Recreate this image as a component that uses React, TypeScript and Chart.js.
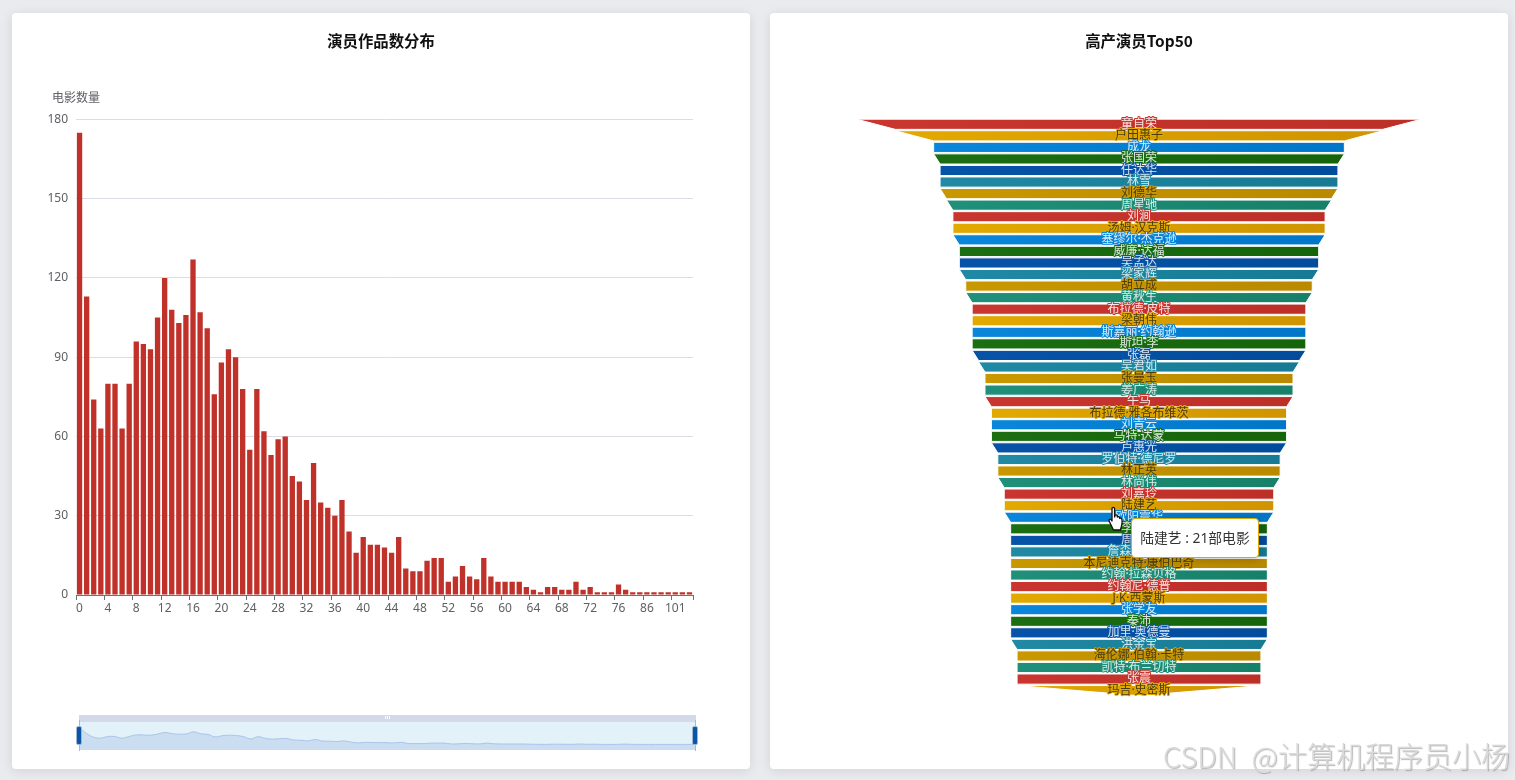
import React, { useEffect, useRef } from "react";
import { Chart, registerables, BarController } from "chart.js";

Chart.register(...registerables);

const FONT = '"Noto Sans", "Noto Sans CJK SC", sans-serif';

const barTitle = "演员作品数分布";
const funnelTitle = "高产演员Top50";
const yAxisName = "电影数量";
const yTicks = [0, 30, 60, 90, 120, 150, 180];

const workCounts = [
  "0","1","2","3","4","5","6","7","8","9","10","11","12","13","14","15","16","17","18","19",
  "20","21","22","23","24","25","26","27","28","29","30","31","32","33","34","35","36","37","38","39",
  "40","41","42","43","44","45","46","47","48","49","50","51","52","53","54","55","56","57","58","59",
  "60","61","62","63","64","65","66","67","68","69","70","71","72","73","74","75","76","78","80","83",
  "86","90","93","97","101","108","124",
];
const movieCounts = [
  175,113,74,63,80,80,63,80,96,95,93,105,120,108,103,106,127,107,101,76,
  88,93,90,78,55,78,62,53,59,60,45,43,36,50,35,33,30,36,24,16,
  22,19,19,18,16,22,10,9,9,13,14,14,5,7,11,7,6,14,7,5,
  5,5,5,3,2,1,3,3,2,2,5,2,3,1,1,1,4,2,1,1,
  1,1,1,1,1,1,1,
];

const actorNames = [
  "童自荣","户田惠子","成龙","张国荣","任达华","林雪","刘德华","周星驰","刘涧","汤姆·汉克斯",
  "塞缪尔·杰克逊","威廉·达福","吴孟达","梁家辉","胡立成","黄秋生","布拉德·皮特","梁朝伟","斯嘉丽·约翰逊","斯坦·李",
  "张磊","吴君如","张曼玉","姜广涛","午马","布拉德·雅各布维茨","刘青云","马特·达蒙","卢惠光","罗伯特·德尼罗",
  "林正英","林尚伟","刘嘉玲","陆建艺","欧阳震华","李连杰","周润发","詹森·斯坦森","本尼迪克特·康伯巴奇","约翰·拉森贝格",
  "约翰尼·德普","J·K·西蒙斯","张学友","秦沛","加里·奥德曼","洪金宝","海伦娜·伯翰·卡特","凯特·布兰切特","张震","玛吉·史密斯",
];
const actorFilms = [
  44,38,32,32,31,31,31,30,29,29,
  29,28,28,28,27,27,26,26,26,26,
  26,25,24,24,24,23,23,23,23,22,
  22,22,21,21,21,20,20,20,20,20,
  20,20,20,20,20,20,19,19,19,19,
];
const highlightedActor = 33;

const funnelFromColors = ["#c9362f","#e2a900","#0a86da","#1b6e12","#0753a8","#2089a4","#c99800","#20907a"];
const funnelToColors = ["#bc2f27","#cf9400","#0076c8","#156409","#034c9c","#167a94","#b98a00","#178068"];
const funnelTextColors = [
  "rgba(255,255,255,0.88)","#4a3a10","rgba(255,255,255,0.85)","rgba(255,255,255,0.85)",
  "rgba(255,255,255,0.85)","rgba(255,255,255,0.82)","#4a3a10","rgba(255,255,255,0.82)",
];

class FunnelController extends BarController {
  static id = "funnel";
  draw() {
    const meta = this._cachedMeta;
    const { ctx } = this.chart;
    const bars = meta.data;
    const center = meta.vScale.getPixelForValue(0);
    ctx.save();
    bars.forEach((bar: any, i: number) => {
      const next: any = bars[i + 1];
      const top = bar.y - bar.height / 2;
      const bottom = bar.y + bar.height / 2;
      const c = i % funnelFromColors.length;
      const g = ctx.createLinearGradient(bar.base, 0, bar.x, 0);
      g.addColorStop(0, funnelFromColors[c]);
      g.addColorStop(1, funnelToColors[c]);
      ctx.beginPath();
      ctx.moveTo(bar.base, top);
      ctx.lineTo(bar.x, top);
      ctx.lineTo(next ? next.x : center, bottom);
      ctx.lineTo(next ? next.base : center, bottom);
      ctx.closePath();
      ctx.fillStyle = g;
      ctx.fill();
      ctx.strokeStyle = "#fff";
      ctx.lineWidth = 1;
      ctx.stroke();
    });
    ctx.font = `12px ${FONT}`;
    ctx.textAlign = "center";
    ctx.textBaseline = "middle";
    ctx.lineJoin = "round";
    bars.forEach((bar: any, i: number) => {
      const c = i % funnelFromColors.length;
      const label = this.chart.data.labels[i] as string;
      ctx.strokeStyle = funnelFromColors[c];
      ctx.lineWidth = 2;
      ctx.strokeText(label, center, bar.y);
      ctx.fillStyle = funnelTextColors[c];
      ctx.fillText(label, center, bar.y);
    });
    ctx.restore();
  }
}
Chart.register(FunnelController);

const yNamePlugin = {
  id: "yName",
  beforeDraw(chart: any) {
    // keep the title centred on the whole card, not on the padded box
    chart.titleBlock.left = 0;
    chart.titleBlock.right = chart.width;
  },
  afterDraw(chart: any) {
    const { ctx, chartArea } = chart;
    ctx.save();
    ctx.font = `12px ${FONT}`;
    ctx.fillStyle = "#5f6066";
    ctx.textAlign = "center";
    ctx.textBaseline = "middle";
    ctx.fillText(yAxisName, chartArea.left, chartArea.top - 21);
    ctx.restore();
  },
};

const titleOptions = (text: string, bottom: number) => ({
  display: true,
  text,
  color: "#111",
  font: { family: '"Noto Sans CJK SC", sans-serif', size: 15.4, weight: "bold" as const },
  padding: { top: 19, bottom },
});

export default function App() {
  const barRef = useRef<HTMLCanvasElement>(null);
  const miniRef = useRef<HTMLCanvasElement>(null);
  const funnelRef = useRef<HTMLCanvasElement>(null);

  useEffect(() => {
    const bar = new Chart(barRef.current!, {
      type: "bar",
      data: {
        labels: workCounts,
        datasets: [{ data: movieCounts, backgroundColor: "#bf3129", barPercentage: 0.75, categoryPercentage: 1 }],
      },
      plugins: [yNamePlugin],
      options: {
        animation: false,
        responsive: false,
        layout: { padding: { right: 57, bottom: 0 } },
        plugins: {
          legend: { display: false },
          tooltip: { enabled: false },
          title: titleOptions(barTitle, 69),
        },
        scales: {
          x: {
            type: "category",
            afterFit: (s: any) => { s.height = 174; },
            border: { color: "#6E7079" },
            grid: {
              drawOnChartArea: false,
              tickLength: 5,
              tickColor: (c: any) => (c.index === undefined || c.index % 4 === 0 ? "#6E7079" : "rgba(0,0,0,0)"),
            },
            ticks: {
              autoSkip: false,
              maxRotation: 0,
              minRotation: 0,
              color: "#5f6066",
              font: { family: FONT, size: 12 },
              padding: 1,
              callback: (_v: any, i: number) => (i % 4 === 0 ? workCounts[i] : ""),
            },
          },
          y: {
            min: 0,
            max: 180,
            afterFit: (s: any) => { s.width = 64; },
            afterBuildTicks: (s: any) => { s.ticks = yTicks.map((value) => ({ value })); },
            border: { display: false },
            grid: { color: "#dadde6", drawTicks: false },
            ticks: { color: "#5f6066", font: { family: FONT, size: 12 }, padding: 8 },
          },
        },
      },
    });

    const mini = new Chart(miniRef.current!, {
      type: "line",
      data: {
        labels: workCounts,
        datasets: [{
          data: movieCounts,
          borderColor: "#a9c4e8",
          borderWidth: 1,
          backgroundColor: "#cbddf1",
          fill: "start",
          pointRadius: 0,
          tension: 0.4,
        }],
      },
      options: {
        animation: false,
        responsive: false,
        plugins: { legend: { display: false }, tooltip: { enabled: false } },
        scales: {
          x: { display: false, offset: false },
          y: { display: false, min: -55, max: 225 },
        },
      },
    });

    const funnel = new Chart(funnelRef.current!, {
      type: "funnel" as any,
      data: {
        labels: actorNames,
        datasets: [{
          data: actorFilms.map((v) => [-v / 2, v / 2]),
          barPercentage: 0.88,
          categoryPercentage: 1,
          clip: false,
        }] as any,
      },
      options: {
        indexAxis: "y",
        animation: false,
        responsive: false,
        layout: { padding: { bottom: 72.6 } },
        plugins: {
          legend: { display: false },
          tooltip: { enabled: false },
          title: titleOptions(funnelTitle, 68),
        },
        scales: {
          x: { type: "linear", display: false, min: -28.75, max: 28.75 },
          y: { type: "category", display: false, offset: true },
        },
      } as any,
    });

    return () => {
      bar.destroy();
      mini.destroy();
      funnel.destroy();
    };
  }, []);

  const card: React.CSSProperties = {
    position: "absolute",
    top: 13,
    width: 738,
    height: 756,
    background: "#fff",
    borderRadius: 4,
    boxShadow: "0 2px 12px rgba(0,0,0,0.10)",
  };
  const handle: React.CSSProperties = {
    position: "absolute",
    top: 726,
    width: 6,
    height: 19,
    background: "#0a56a6",
    borderRadius: 2,
    border: "0.5px solid #9db6d6",
    boxSizing: "border-box",
  };
  const handleLine: React.CSSProperties = {
    position: "absolute",
    top: 720,
    width: 1,
    height: 31,
    background: "#aeb6c8",
  };
  const grip: React.CSSProperties = {
    position: "absolute",
    top: 716,
    width: 1,
    height: 3,
    background: "#fff",
  };

  return (
    <div style={{ position: "fixed", left: 0, top: 0, width: 1515, height: 780, overflow: "hidden", background: "#e9ebef", fontFamily: FONT }}>
      <div style={{ ...card, left: 12 }}>
        <canvas ref={barRef} width={738} height={756} style={{ display: "block" }} />
      </div>
      <div style={{ ...card, left: 770 }}>
        <canvas ref={funnelRef} width={738} height={756} style={{ display: "block" }} />
      </div>

      <div style={{ position: "absolute", left: 79, top: 715, width: 617, height: 7, background: "#d3d9e9" }} />
      <div style={{ position: "absolute", left: 79, top: 722, width: 616, height: 28, background: "#e3f1f9" }}>
        <canvas ref={miniRef} width={616} height={28} style={{ display: "block" }} />
      </div>
      <div style={{ ...grip, left: 385 }} />
      <div style={{ ...grip, left: 387 }} />
      <div style={{ ...grip, left: 389 }} />
      <div style={{ ...handleLine, left: 79 }} />
      <div style={{ ...handleLine, left: 695 }} />
      <div style={{ ...handle, left: 76 }} />
      <div style={{ ...handle, left: 692 }} />

      <div
        style={{
          position: "absolute",
          left: 1131,
          top: 518,
          width: 128,
          height: 40,
          boxSizing: "border-box",
          background: "#fff",
          border: "1px solid #dfa800",
          borderRadius: 4,
          boxShadow: "1px 2px 10px rgba(0,0,0,0.2)",
          color: "#333",
          fontSize: 13.8,
          lineHeight: "38px",
          textAlign: "center",
          whiteSpace: "nowrap",
        }}
      >
        {`${actorNames[highlightedActor]} : ${actorFilms[highlightedActor]}部电影`}
      </div>

      <svg style={{ position: "absolute", left: 1108, top: 506 }} width={17} height={26} viewBox="0 0 17 26">
        <path
          d="M4 2.5c0-1.5 2.6-1.5 2.6 0V11l.6-2c1.3-.4 2 .2 2 1l.2 1c1-.7 2-.4 2.2.6l.1.8c1-.5 2-.1 2.2.9.3 2 .3 4.500-.5 7l-1 3.700H5.500L1.800 16.500C1 15 .8 13.800 1.500 13.300c.9-.5 1.800.3 2.500 1.700z"
          fill="#fff"
          stroke="#111"
          strokeWidth={1.3}
          strokeLinejoin="round"
        />
      </svg>

      <div
        style={{
          position: "absolute",
          right: 5,
          top: 735,
          fontSize: 29,
          lineHeight: "40px",
          color: "#dadada",
          whiteSpace: "nowrap",
          wordSpacing: 8,
          fontFamily: '"Noto Sans CJK SC", sans-serif',
          fontWeight: 300,
          textShadow: "1px 1px 1px rgba(110,110,110,0.5)",
        }}
      >
        CSDN @计算机程序员小杨
      </div>
    </div>
  );
}
